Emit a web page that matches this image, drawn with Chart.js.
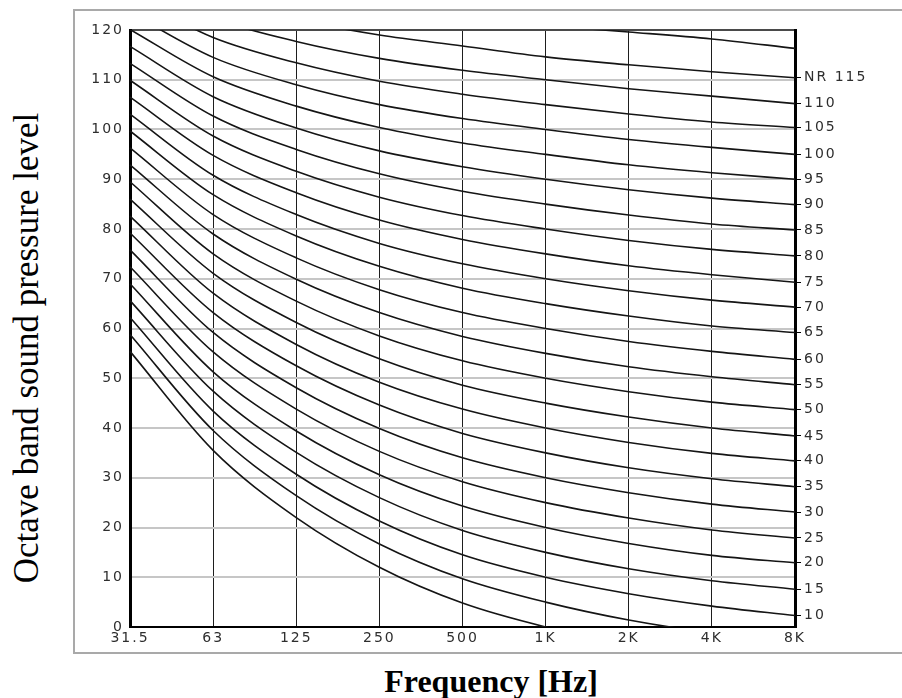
<!DOCTYPE html>
<html>
<head>
<meta charset="utf-8">
<title>NR curves</title>
<script src="https://cdn.jsdelivr.net/npm/chart.js@4.4.1/dist/chart.umd.min.js"></script>
<style>
  html, body { margin: 0; padding: 0; background: #fff; }
  body { width: 902px; height: 698px; position: relative; overflow: hidden; }
  #frame {
    position: absolute; left: 73px; top: 9px; width: 860px; height: 641px;
    border: 2px solid #a9a9a9; border-right: none;
  }
  #chart { position: absolute; left: 75px; top: 11px; }
  .ytitle {
    position: absolute; left: 27px; top: 348px;
    transform: translate(-50%, -50%) rotate(-90deg);
    font: 35px "Liberation Serif", "Times New Roman", serif; white-space: nowrap; color: #000;
  }
  .xtitle {
    position: absolute; left: 491px; top: 681px;
    transform: translate(-50%, -50%);
    font: bold 32px "Liberation Serif", "Times New Roman", serif; white-space: nowrap; color: #000;
  }
</style>
</head>
<body>
<div id="frame"></div>
<canvas id="chart" width="827" height="640"></canvas>
<div class="ytitle">Octave band sound pressure level</div>
<div class="xtitle">Frequency [Hz]</div>
<script>
// octave bands
const freqLabels = ["31.5", "63", "125", "250", "500", "1K", "2K", "4K", "8K"];
const yTickValues = [0, 10, 20, 30, 40, 50, 60, 70, 80, 90, 100, 110, 120];

// NR curves, dB per octave band
const nr0   = [55.4, 35.5, 22.0, 12.0, 4.8, 0, -3.5, -6.1, -8.0];
const nr5   = [58.8, 39.5, 26.4, 16.7, 9.7, 5, 1.4, -1.2, -3.0];
const nr10  = [62.2, 43.4, 30.7, 21.3, 14.5, 10, 6.7, 4.2, 2.3];
const nr15  = [65.6, 47.4, 35.1, 26.0, 19.4, 15, 11.7, 9.3, 7.6];
const nr20  = [69.0, 51.3, 39.4, 30.6, 24.3, 20, 16.8, 14.4, 12.9];
const nr25  = [72.4, 55.3, 43.8, 35.3, 29.2, 25, 21.9, 19.5, 17.9];
const nr30  = [75.8, 59.2, 48.1, 39.9, 34.0, 30, 27.0, 24.7, 23.1];
const nr35  = [79.2, 63.2, 52.5, 44.6, 38.9, 35, 32.0, 29.8, 28.2];
const nr40  = [82.6, 67.1, 56.8, 49.2, 43.8, 40, 37.1, 34.9, 33.4];
const nr45  = [86.0, 71.1, 61.2, 53.9, 48.6, 45, 42.2, 40.0, 38.4];
const nr50  = [89.5, 75.0, 65.5, 58.5, 53.5, 50, 47.3, 45.2, 43.7];
const nr55  = [92.9, 79.0, 69.9, 63.2, 58.4, 55, 52.3, 50.3, 48.7];
const nr60  = [96.3, 82.9, 74.2, 67.8, 63.2, 60, 57.4, 55.4, 53.8];
const nr65  = [99.7, 86.9, 78.6, 72.5, 68.1, 65, 62.5, 60.5, 59.2];
const nr70  = [103.1, 90.8, 82.9, 77.1, 73.0, 70, 67.6, 65.7, 64.3];
const nr75  = [106.5, 94.8, 87.3, 81.8, 77.9, 75, 72.6, 70.8, 69.3];
const nr80  = [109.9, 98.7, 91.6, 86.4, 82.7, 80, 77.7, 75.9, 74.6];
const nr85  = [113.3, 102.7, 96.0, 91.1, 87.6, 85, 82.8, 81.0, 79.8];
const nr90  = [116.7, 106.6, 100.3, 95.7, 92.5, 90, 87.9, 86.2, 84.9];
const nr95  = [120.1, 110.6, 104.7, 100.4, 97.3, 95, 92.9, 91.3, 90.0];
const nr100 = [123.5, 114.5, 109.0, 105.0, 102.2, 100, 98.0, 96.4, 95.0];
const nr105 = [126.9, 118.5, 113.4, 109.7, 107.1, 105, 103.1, 101.5, 100.4];
const nr110 = [130.3, 122.4, 117.7, 114.3, 111.9, 110, 108.2, 106.7, 105.2];
const nr115 = [133.7, 126.4, 122.1, 119.0, 116.8, 114.6, 113.0, 111.6, 110.4];
const nr120 = [137.1, 130.3, 126.4, 123.6, 122.0, 120.9, 119.6, 118.2, 116.3];

const curves = [nr0, nr5, nr10, nr15, nr20, nr25, nr30, nr35, nr40, nr45, nr50, nr55, nr60,
                nr65, nr70, nr75, nr80, nr85, nr90, nr95, nr100, nr105, nr110, nr115, nr120];
const nrLevels = [0, 5, 10, 15, 20, 25, 30, 35, 40, 45, 50, 55, 60,
                  65, 70, 75, 80, 85, 90, 95, 100, 105, 110, 115, 120];

// labels at the right end of the curves
const rightLevels = [10, 15, 20, 25, 30, 35, 40, 45, 50, 55, 60, 65, 70, 75, 80, 85, 90, 95, 100, 105, 110, 115];
const rightLabels = ["10", "15", "20", "25", "30", "35", "40", "45", "50", "55", "60", "65", "70",
                     "75", "80", "85", "90", "95", "100", "105", "110", "NR 115"];

const tickFont = { family: "'DejaVu Sans', sans-serif", size: 14 };
const tickColor = "#2e2e2e";

// wide spaced tick text like the printed chart
const wideText = {
  id: "wideText",
  beforeDraw(chart) { chart.ctx.letterSpacing = "2px"; },
  afterDraw(chart) { chart.ctx.letterSpacing = "0px"; }
};

const datasets = curves.map((c, i) => ({
  label: "NR " + nrLevels[i],
  data: c,
  borderColor: "#151515",
  borderWidth: 1.6,
  pointRadius: 0,
  fill: false,
  cubicInterpolationMode: "monotone"
}));

new Chart(document.getElementById("chart"), {
  type: "line",
  data: { labels: freqLabels, datasets: datasets },
  plugins: [wideText],
  options: {
    responsive: false,
    animation: false,
    events: [],
    layout: { padding: { top: 19, left: 0, right: 0, bottom: 0 } },
    plugins: { legend: { display: false }, tooltip: { enabled: false } },
    scales: {
      x: {
        offset: false,
        grid: { color: "#1e1e1e", lineWidth: 1, drawTicks: false },
        border: { display: true, color: "#000", width: 2 },
        ticks: { font: tickFont, color: tickColor, padding: 3, maxRotation: 0, autoSkip: false },
        afterFit(s) { s.height = 24; }
      },
      y: {
        min: 0,
        max: 120,
        afterBuildTicks(s) { s.ticks = yTickValues.map(v => ({ value: v })); },
        grid: {
          color: ctx => (ctx.tick && ctx.tick.value === 120 ? "#4a4a4a" : "#c6c6c6"),
          lineWidth: 2,
          drawTicks: false
        },
        border: { display: true, color: "#000", width: 3 },
        ticks: { font: tickFont, color: tickColor, padding: 6 },
        afterFit(s) { s.width = 55; }
      },
      y2: {
        position: "right",
        min: 0,
        max: 120,
        afterBuildTicks(s) {
          s.ticks = rightLevels.map(l => ({ value: curves[nrLevels.indexOf(l)][freqLabels.length - 1] }));
        },
        grid: { drawOnChartArea: false, drawTicks: true, tickLength: 6, color: "#000", lineWidth: 1 },
        border: { display: true, color: "#000", width: 3 },
        ticks: {
          font: tickFont, color: tickColor, padding: 3, autoSkip: false,
          callback: (v, i) => rightLabels[i]
        },
        afterFit(s) { s.width = 107; }
      }
    }
  }
});
</script>
</body>
</html>
